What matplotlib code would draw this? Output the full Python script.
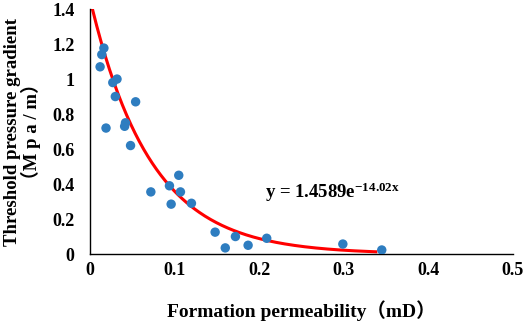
import numpy as np
import matplotlib
matplotlib.use("Agg")
import matplotlib.pyplot as plt

# measured points: permeability (mD) vs threshold pressure gradient (MPa/m)
perm = [0.0165, 0.014, 0.012, 0.032, 0.027, 0.030, 0.054, 0.019, 0.042, 0.041, 0.048,
        0.072, 0.094, 0.105, 0.107, 0.096, 0.120, 0.148, 0.160, 0.172, 0.187, 0.209,
        0.299, 0.345]
gradient = [1.177, 1.14, 1.07, 1.00, 0.98, 0.90, 0.87, 0.72, 0.75, 0.73, 0.62,
            0.355, 0.39, 0.45, 0.355, 0.285, 0.29, 0.125, 0.035, 0.10, 0.05, 0.09,
            0.057, 0.023]

# fitted trend y = a * exp(b * x)
fit_a = 1.4589
fit_b = -14.02
fit_range = (0.003, 0.338)

x_ticks = [0, 0.1, 0.2, 0.3, 0.4, 0.5]
x_tick_labels = ["0", "0.1", "0.2", "0.3", "0.4", "0.5"]
y_ticks = [0, 0.2, 0.4, 0.6, 0.8, 1.0, 1.2, 1.4]
y_tick_labels = ["0", "0.2", "0.4", "0.6", "0.8", "1", "1.2", "1.4"]

fonts = ["Liberation Serif", "Noto Sans CJK SC"]
plt.rcParams["font.family"] = fonts
plt.rcParams["font.weight"] = "bold"
plt.rcParams["mathtext.fontset"] = "custom"
plt.rcParams["mathtext.rm"] = "Liberation Serif"
plt.rcParams["mathtext.bf"] = "Liberation Serif:bold"
plt.rcParams["mathtext.it"] = "Liberation Serif"
plt.rcParams["mathtext.default"] = "rm"

fig = plt.figure(figsize=(5.26, 3.24), dpi=100)
ax = fig.add_axes([0.171, 0.216, 0.804, 0.756])

xs = np.linspace(fit_range[0], fit_range[1], 200)
ax.plot(xs, fit_a * np.exp(fit_b * xs), color="#ff0000", lw=2.2, zorder=2)
ax.scatter(perm, gradient, s=46, color="#2e7dc0", zorder=3, edgecolors="none")

ax.set_xlim(0, 0.5)
ax.set_ylim(0, 1.4)
ax.set_xticks(x_ticks)
ax.set_xticklabels(x_tick_labels)
ax.set_yticks(y_ticks)
ax.set_yticklabels(y_tick_labels)
ax.tick_params(length=0, labelsize=13)
ax.tick_params(axis="x", pad=6)
ax.tick_params(axis="y", pad=11)
for lab in ax.get_xticklabels() + ax.get_yticklabels():
    lab.set_fontweight("bold")

for side in ("top", "right"):
    ax.spines[side].set_visible(False)
for side in ("left", "bottom"):
    ax.spines[side].set_color("black")
    ax.spines[side].set_linewidth(1.0)

ax.set_xlabel("Formation permeability（mD）", fontsize=14, fontweight="bold")
ax.xaxis.set_label_coords(0.5, -0.19)
ax.set_ylabel("Threshold pressure gradient\n（M p a / m）", fontsize=13.5, fontweight="bold",
              linespacing=1.0)
ax.yaxis.set_label_coords(-0.115, 0.5)

ax.text(0.207, 0.35, r"y = 1.4589e$^{\mathrm{-14.02x}}$", fontsize=13.5, fontweight="bold",
        va="center", ha="left")

fig.savefig("out.png", dpi=100)
